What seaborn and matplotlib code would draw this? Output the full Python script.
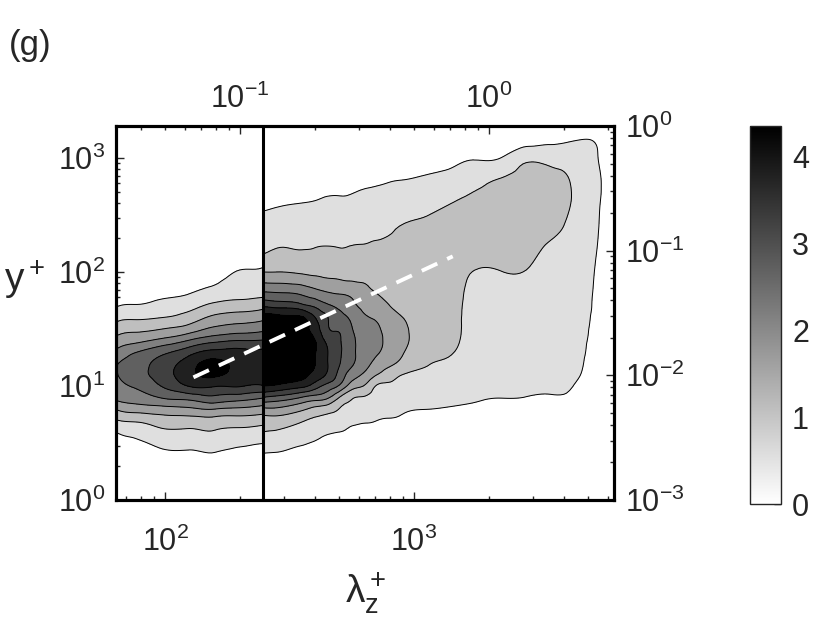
import numpy as np
import matplotlib
matplotlib.use("Agg")
import matplotlib.pyplot as plt
import matplotlib.tri as mtri
import matplotlib.colors as mcolors
from matplotlib.cm import ScalarMappable
from matplotlib.ticker import LogLocator, NullFormatter
import seaborn as sns
import pandas as pd

# ---------------- data ----------------
# wall-normal positions (y+), bottom -> top
yplus = [1, 1.585, 2.512, 3.981, 5.012, 6.310, 7.943, 10, 12.59, 15.85, 19.95, 25.12,
         31.62, 39.81, 50.12, 63.10, 100, 158.5, 251.2, 398.1, 631.0, 1000, 1413, 1995]

# left data set: spanwise wavelengths (lambda_z+) and value columns (one list per wavelength)
lam_left = [63.1, 79.4, 100.0, 125.9, 158.5, 199.5, 251.2]
left_cols = [
    [0, 0.05, 0.20, 0.55, 1.05, 1.65, 2.30, 2.50, 2.65, 2.65, 2.25, 1.80, 1.30, 0.90, 0.50, 0.20, 0, 0, 0, 0, 0, 0, 0, 0],
    [0, 0.05, 0.30, 0.75, 1.20, 1.90, 2.50, 2.85, 3.10, 3.05, 2.75, 2.05, 1.50, 1.00, 0.60, 0.30, 0.05, 0, 0, 0, 0, 0, 0, 0],
    [0, 0.15, 0.45, 1.00, 1.40, 2.00, 2.80, 3.35, 3.60, 3.55, 3.15, 2.35, 1.65, 1.10, 0.75, 0.45, 0.15, 0.05, 0, 0, 0, 0, 0, 0],
    [0, 0.15, 0.45, 1.00, 1.40, 2.10, 2.95, 3.85, 4.20, 4.10, 3.60, 2.75, 1.90, 1.35, 0.90, 0.57, 0.20, 0.05, 0, 0, 0, 0, 0, 0],
    [0, 0.15, 0.50, 1.05, 1.45, 2.20, 3.15, 3.85, 4.45, 4.50, 3.95, 3.10, 2.30, 1.75, 1.25, 0.80, 0.35, 0.10, 0.02, 0, 0, 0, 0, 0],
    [0, 0.10, 0.40, 0.95, 1.40, 2.10, 3.00, 3.85, 4.20, 4.15, 3.95, 3.25, 2.45, 1.90, 1.35, 0.95, 0.57, 0.25, 0.05, 0, 0, 0, 0, 0],
    [0, 0.10, 0.35, 0.85, 1.30, 1.95, 2.75, 3.80, 4.10, 4.10, 3.95, 3.30, 2.60, 2.05, 1.50, 1.00, 0.60, 0.30, 0.08, 0, 0, 0, 0, 0],
]

# right data set
lam_right = [247.7, 281.8, 354.8, 398.1, 446.7, 501.2, 562.3, 631.0, 707.9, 794.3,
             891.3, 1122, 1413, 1778, 2239, 2818, 3548, 4467, 5248, 6310]
right_cols = [
    [0, 0.25, 0.52, 1.10, 1.40, 2.10, 3.25, 4.35, 4.80, 4.95, 5.00, 4.90, 4.70, 4.55, 3.75, 2.90, 1.63, 1.00, 0.75, 0.45, 0.30, 0.15, 0.05, 0],
    [0, 0.25, 0.50, 1.05, 1.40, 2.10, 3.10, 4.25, 4.80, 4.95, 4.95, 4.80, 4.60, 4.50, 3.65, 2.85, 1.63, 1.10, 0.80, 0.50, 0.30, 0.15, 0.05, 0],
    [0, 0.15, 0.38, 0.85, 1.15, 1.75, 2.70, 3.95, 4.50, 4.60, 4.60, 4.50, 4.45, 4.40, 3.45, 2.70, 1.55, 1.08, 0.80, 0.55, 0.30, 0.15, 0.05, 0],
    [0, 0.15, 0.37, 0.72, 1.00, 1.50, 2.50, 3.55, 4.20, 4.38, 4.40, 4.38, 4.15, 3.85, 3.20, 2.50, 1.50, 1.10, 0.80, 0.57, 0.35, 0.18, 0.06, 0],
    [0, 0.15, 0.35, 0.60, 0.90, 1.35, 2.30, 3.10, 3.75, 3.85, 3.85, 3.65, 3.35, 3.30, 2.85, 2.30, 1.45, 1.12, 0.80, 0.60, 0.40, 0.20, 0.08, 0],
    [0, 0.12, 0.32, 0.55, 0.78, 1.08, 1.63, 2.65, 3.10, 3.30, 3.35, 3.30, 3.20, 2.95, 2.60, 2.20, 1.40, 1.10, 0.80, 0.60, 0.42, 0.22, 0.09, 0],
    [0, 0.10, 0.30, 0.50, 0.65, 0.95, 1.15, 1.90, 2.45, 2.80, 2.85, 2.85, 2.75, 2.60, 2.30, 2.10, 1.35, 1.12, 0.80, 0.60, 0.45, 0.25, 0.10, 0],
    [0, 0.10, 0.28, 0.47, 0.60, 0.85, 1.05, 1.60, 2.10, 2.40, 2.50, 2.50, 2.45, 2.25, 2.05, 1.85, 1.40, 1.13, 0.88, 0.65, 0.48, 0.27, 0.11, 0],
    [0, 0.10, 0.25, 0.45, 0.55, 0.75, 0.90, 1.05, 1.65, 2.00, 2.25, 2.30, 2.25, 2.10, 1.85, 1.65, 1.35, 1.15, 0.95, 0.70, 0.50, 0.30, 0.12, 0],
    [0, 0.09, 0.22, 0.42, 0.52, 0.68, 0.85, 1.00, 1.35, 1.75, 1.98, 2.05, 2.00, 1.85, 1.65, 1.50, 1.30, 1.15, 1.02, 0.75, 0.53, 0.30, 0.12, 0],
    [0, 0.08, 0.20, 0.40, 0.50, 0.60, 0.75, 0.90, 1.10, 1.50, 1.70, 1.80, 1.75, 1.65, 1.45, 1.35, 1.25, 1.15, 1.10, 0.80, 0.55, 0.30, 0.12, 0],
    [0, 0.08, 0.20, 0.35, 0.45, 0.55, 0.70, 0.85, 1.00, 1.12, 1.25, 1.35, 1.40, 1.40, 1.35, 1.30, 1.25, 1.20, 1.15, 0.95, 0.62, 0.35, 0.15, 0],
    [0, 0.08, 0.18, 0.32, 0.42, 0.52, 0.65, 0.78, 0.90, 1.00, 1.12, 1.20, 1.22, 1.22, 1.22, 1.22, 1.20, 1.20, 1.20, 1.09, 0.75, 0.40, 0.18, 0.02],
    [0, 0.05, 0.15, 0.30, 0.38, 0.48, 0.58, 0.65, 0.72, 0.78, 0.82, 0.85, 0.88, 0.90, 0.92, 0.95, 1.07, 1.20, 1.25, 1.20, 0.95, 0.50, 0.22, 0.03],
    [0, 0.05, 0.15, 0.28, 0.36, 0.45, 0.55, 0.62, 0.68, 0.72, 0.75, 0.78, 0.80, 0.82, 0.85, 0.90, 1.08, 1.25, 1.30, 1.28, 1.15, 0.55, 0.30, 0.05],
    [0, 0.05, 0.15, 0.27, 0.35, 0.45, 0.54, 0.60, 0.66, 0.70, 0.72, 0.75, 0.78, 0.80, 0.85, 0.90, 1.07, 1.25, 1.32, 1.35, 1.30, 0.95, 0.35, 0.10],
    [0, 0.05, 0.15, 0.27, 0.34, 0.43, 0.52, 0.60, 0.65, 0.68, 0.70, 0.72, 0.73, 0.75, 0.77, 0.80, 0.88, 1.00, 1.20, 1.30, 1.25, 0.90, 0.45, 0.10],
    [0, 0.04, 0.12, 0.22, 0.30, 0.38, 0.46, 0.52, 0.60, 0.65, 0.67, 0.69, 0.70, 0.72, 0.74, 0.76, 0.80, 0.85, 0.92, 1.00, 1.00, 0.85, 0.55, 0.15],
    [0, 0.02, 0.06, 0.12, 0.16, 0.20, 0.25, 0.30, 0.35, 0.38, 0.42, 0.45, 0.48, 0.50, 0.52, 0.53, 0.56, 0.60, 0.63, 0.66, 0.68, 0.62, 0.54, 0.20],
    [0, 0, 0.02, 0.05, 0.07, 0.09, 0.11, 0.14, 0.17, 0.20, 0.22, 0.25, 0.27, 0.29, 0.30, 0.31, 0.33, 0.35, 0.37, 0.38, 0.38, 0.35, 0.30, 0.10],
]

# dashed ridge line and split position
ridge_lambda = [130, 1430]
ridge_yplus = [11.9, 137]
split_lambda = 248

# outer scales for the top / right axes
delta_plus = 2000
right_limits = [1e-3, 1]

# colour scale
cmax = 4.35
cbar_ticks = [0, 1, 2, 3, 4]
n_levels = 8

# ---------------- style ----------------
sns.set_style("ticks")
plt.rcParams['font.family'] = ['Liberation Sans', 'DejaVu Sans']
plt.rcParams['mathtext.fontset'] = 'custom'
plt.rcParams['mathtext.rm'] = 'Liberation Sans'
plt.rcParams['mathtext.it'] = 'Liberation Sans:italic'
plt.rcParams['mathtext.default'] = 'regular'
plt.rcParams['axes.unicode_minus'] = False

W, H = 830, 623
fig = plt.figure(figsize=(W / 100, H / 100), dpi=100)
ax = fig.add_axes([116 / W, 1 - 500 / H, 498 / W, 374 / H])

step = cmax / n_levels
levels = [step * k for k in range(1, n_levels + 1)] + [99]
band_colors = [str(1 - k / n_levels) for k in range(1, n_levels + 1)]


def panel(lam, cols):
    Z = np.array(cols, dtype=float).T
    LX, LY = np.meshgrid(np.log10(lam), np.log10(yplus))
    tri = mtri.Triangulation(LX.ravel(), LY.ravel())
    ref = mtri.UniformTriRefiner(tri)
    tri_r, z_r = ref.refine_field(Z.ravel(), subdiv=3)
    tri_p = mtri.Triangulation(10 ** tri_r.x, 10 ** tri_r.y, tri_r.triangles)
    ax.tricontourf(tri_p, z_r, levels=levels, colors=band_colors)
    ax.tricontour(tri_p, z_r, levels=levels[:-1], colors='k', linewidths=0.7)


panel(lam_left, left_cols)
panel(lam_right, right_cols)

xlim = (10 ** 1.803, 10 ** 3.803)
ax.set_xscale('log')
ax.set_yscale('log')
ax.set_xlim(*xlim)
ax.set_ylim(1, 10 ** 3.28)

ax.axvline(split_lambda, color='k', lw=2.2, zorder=5)

ridge = pd.DataFrame({'lam': ridge_lambda, 'y': ridge_yplus})
sns.lineplot(data=ridge, x='lam', y='y', ax=ax, color='white', lw=2.8,
             zorder=6, estimator=None, sort=False)
ax.lines[-1].set_dashes([4.4, 2.8])
ax.lines[-1].set_dash_capstyle('butt')

ax.set_xlabel('')
ax.set_ylabel('')

tick_fs = 22
ax.tick_params(axis='both', which='both', direction='in', labelsize=tick_fs,
               top=False, right=False)
ax.tick_params(axis='x', which='major', length=6, width=1, pad=19)
ax.tick_params(axis='y', which='major', length=6, width=1, pad=8)
ax.tick_params(which='minor', length=3, width=1)

# top axis: lambda_z / delta
ax3 = ax.twiny()
ax3.set_xscale('log')
ax3.set_xlim(xlim[0] / delta_plus, xlim[1] / delta_plus)
ax3.xaxis.set_major_locator(LogLocator(base=10, numticks=10))
ax3.xaxis.set_minor_locator(LogLocator(base=10, subs=np.arange(2, 10), numticks=20))
ax3.xaxis.set_minor_formatter(NullFormatter())
ax3.tick_params(axis='x', which='both', direction='in', labelsize=tick_fs)
ax3.tick_params(axis='x', which='major', length=6, width=1, pad=8)
ax3.tick_params(axis='x', which='minor', length=3, width=1)

# right axis: y / delta
ax2 = ax.twinx()
ax2.set_yscale('log')
ax2.set_ylim(*right_limits)
ax2.tick_params(axis='y', which='both', direction='in', labelsize=tick_fs)
ax2.tick_params(axis='y', which='major', length=6, width=1, pad=8)
ax2.tick_params(axis='y', which='minor', length=3, width=1)

for a in (ax, ax2, ax3):
    for s in a.spines.values():
        s.set_linewidth(2.2)
        s.set_color('black')

fig.text(365 / W, 1 - 603 / H, r'$\lambda_z^+$', fontsize=28, ha='center', va='baseline')
fig.text(4 / W, 1 - 280 / H, r'y$^+$', fontsize=28, ha='left', va='center')
fig.text(9 / W, 1 - 46 / H, '(g)', fontsize=25, ha='left', va='center')

# colour bar
cax = fig.add_axes([750 / W, 1 - 504 / H, 31 / W, 378 / H])
sm = ScalarMappable(norm=mcolors.Normalize(0, cmax), cmap='gray_r')
cb = fig.colorbar(sm, cax=cax, ticks=cbar_ticks)
cb.outline.set_linewidth(1.0)
cax.tick_params(direction='in', length=5, width=1, labelsize=tick_fs, pad=8)

fig.savefig('out.png', dpi=100)
